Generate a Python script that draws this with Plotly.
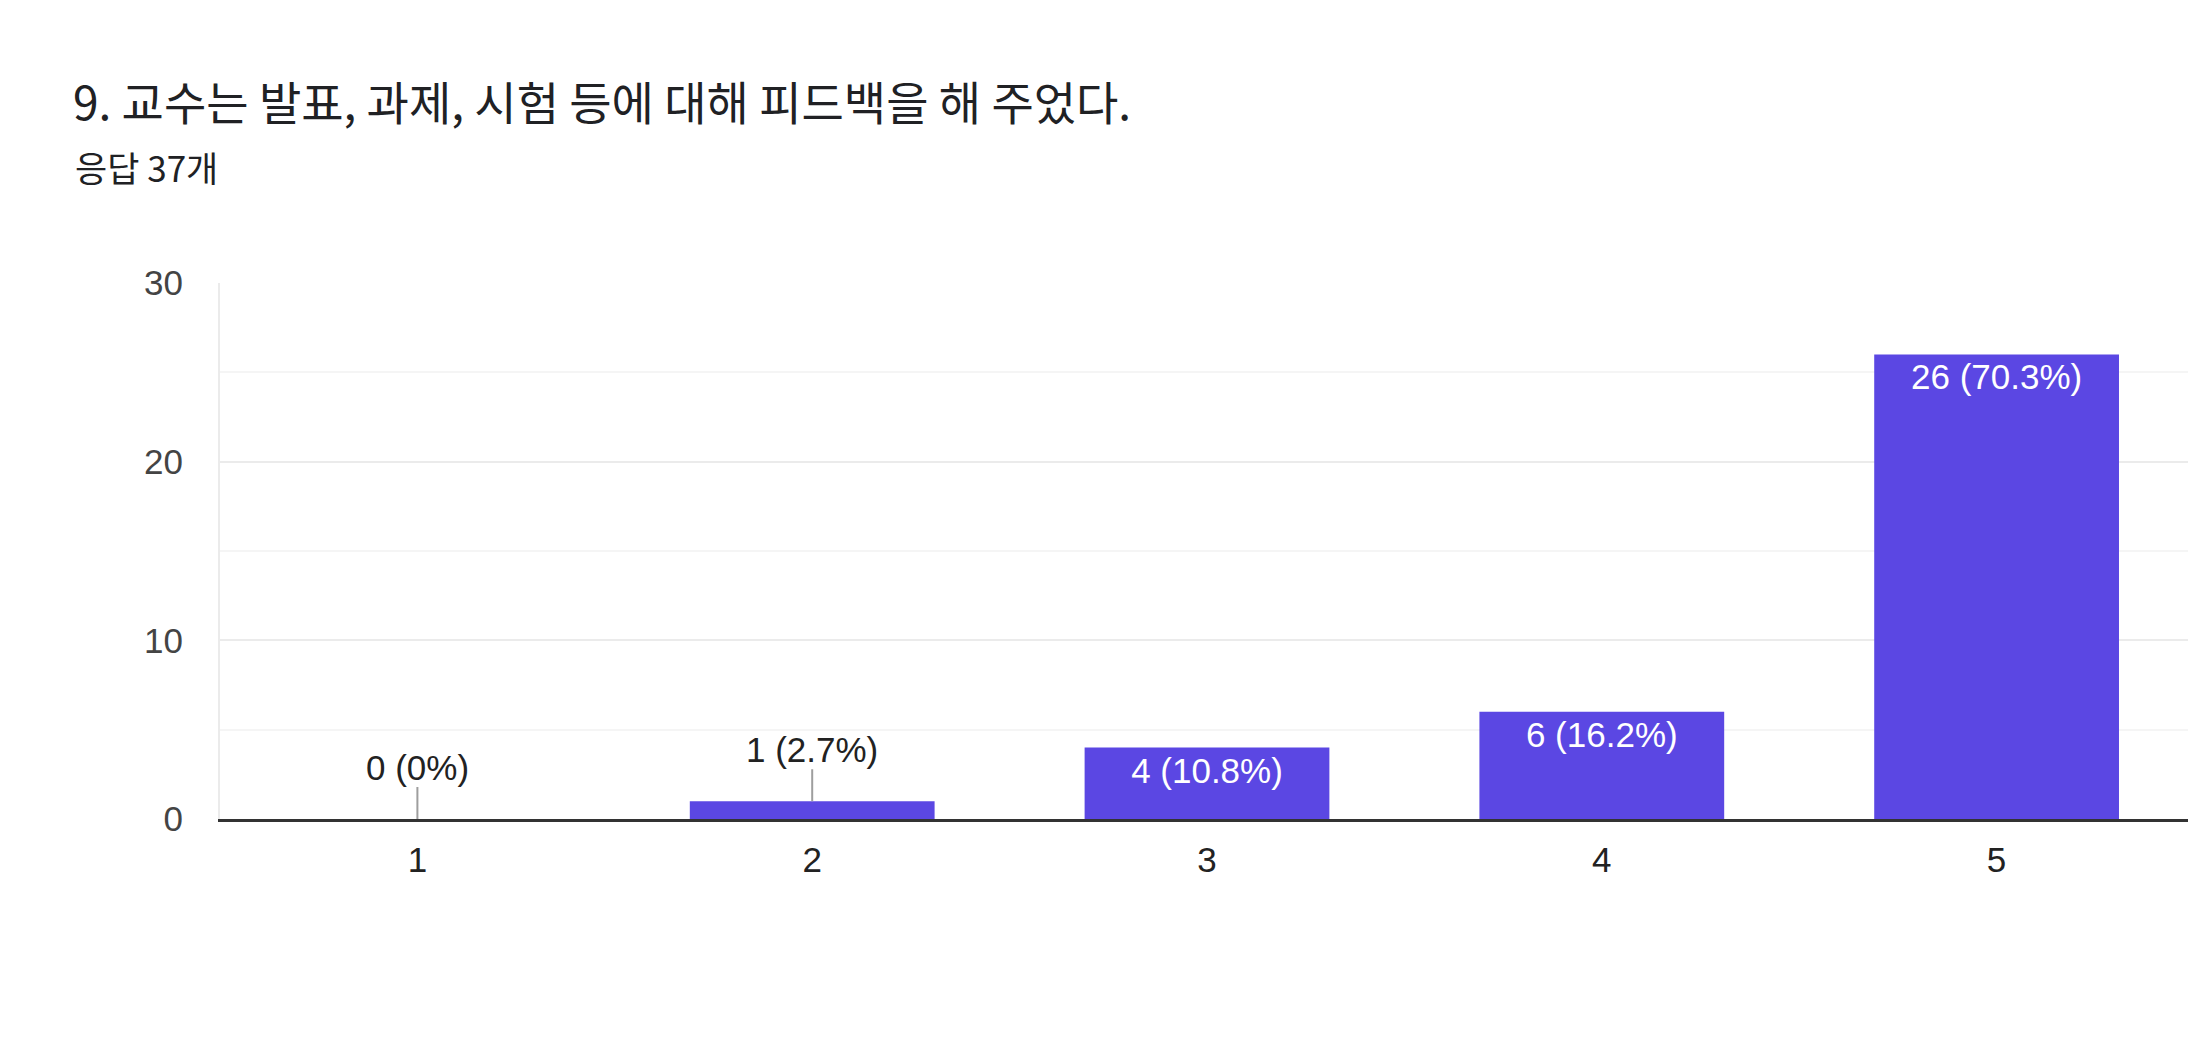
import plotly.graph_objects as go

categories = ["1", "2", "3", "4", "5"]
counts = [0, 1, 4, 6, 26]
percents = ["0%", "2.7%", "10.8%", "16.2%", "70.3%"]
y_ticks = [0, 10, 20, 30]

title_text = "9. 교수는 발표, 과제, 시험 등에 대해 피드백을 해 주었다."
subtitle_text = "응답 37개"

labels = [f"{c} ({p})" for c, p in zip(counts, percents)]
INSIDE_MIN = 3
inside_text = [l if c >= INSIDE_MIN else "" for l, c in zip(labels, counts)]

# page body has an 8px margin; compensate
OFF = 8
W, H = 2188, 1028
L, R, T = 220 - OFF, 0, 283 - OFF
B = H - (819 - OFF)
plot_w = W - L - R
plot_h = H - T - B

fig = go.Figure()
fig.add_trace(go.Bar(
    x=categories,
    y=counts,
    marker=dict(color="#5b47e3", line=dict(width=0)),
    text=inside_text,
    textposition="inside",
    insidetextanchor="end",
    textangle=0,
    insidetextfont=dict(color="#ffffff", size=35, family="Liberation Sans, Arial, sans-serif"),
    hoverinfo="skip",
    cliponaxis=False,
))

annotations = []
for i, (c, l) in enumerate(zip(counts, labels)):
    if c < INSIDE_MIN:
        annotations.append(dict(
            x=i, y=c, xref="x", yref="y",
            text=l, showarrow=True, arrowhead=0, arrowwidth=2,
            arrowcolor="#9e9e9e", ax=0, ay=-52, borderpad=0,
            font=dict(size=35, color="#222222", family="Liberation Sans, Arial, sans-serif"),
        ))

annotations.append(dict(
    text=subtitle_text, xref="paper", yref="paper",
    x=(73 - OFF - L) / plot_w, y=(H - B - (167 - OFF)) / plot_h,
    xanchor="left", yanchor="middle", showarrow=False,
    font=dict(size=35, color="#202124", family="Noto Sans CJK KR"),
))

fig.update_layout(
    width=W, height=H,
    margin=dict(l=L, r=R, t=T, b=B, pad=0),
    paper_bgcolor="#ffffff",
    plot_bgcolor="#ffffff",
    showlegend=False,
    bargap=0.38,
    title=dict(
        text=title_text, x=(73 - OFF) / W, xref="container", xanchor="left",
        y=1 - (104 - OFF) / H, yref="container", yanchor="middle",
        font=dict(size=46, color="#202124", family="Noto Sans CJK KR"),
    ),
    annotations=annotations,
    xaxis=dict(
        type="category",
        showline=True, linecolor="#333333", linewidth=3,
        showgrid=False, ticks="", ticklabelstandoff=8,
        tickfont=dict(size=35, color="#222222", family="Liberation Sans, Arial, sans-serif"),
        fixedrange=True,
    ),
    yaxis=dict(
        range=[0, 30], tickvals=y_ticks, dtick=10,
        showgrid=True, gridcolor="#ebebeb", gridwidth=2,
        minor=dict(dtick=5, showgrid=True, gridcolor="#f5f5f5", gridwidth=2),
        showline=True, linecolor="#ebebeb", linewidth=2, mirror=True,
        zeroline=False, ticks="", ticklabelstandoff=28,
        tickfont=dict(size=35, color="#444444", family="Liberation Sans, Arial, sans-serif"),
        fixedrange=True,
    ),
)

fig.write_html("out.html", config={"displayModeBar": False})
